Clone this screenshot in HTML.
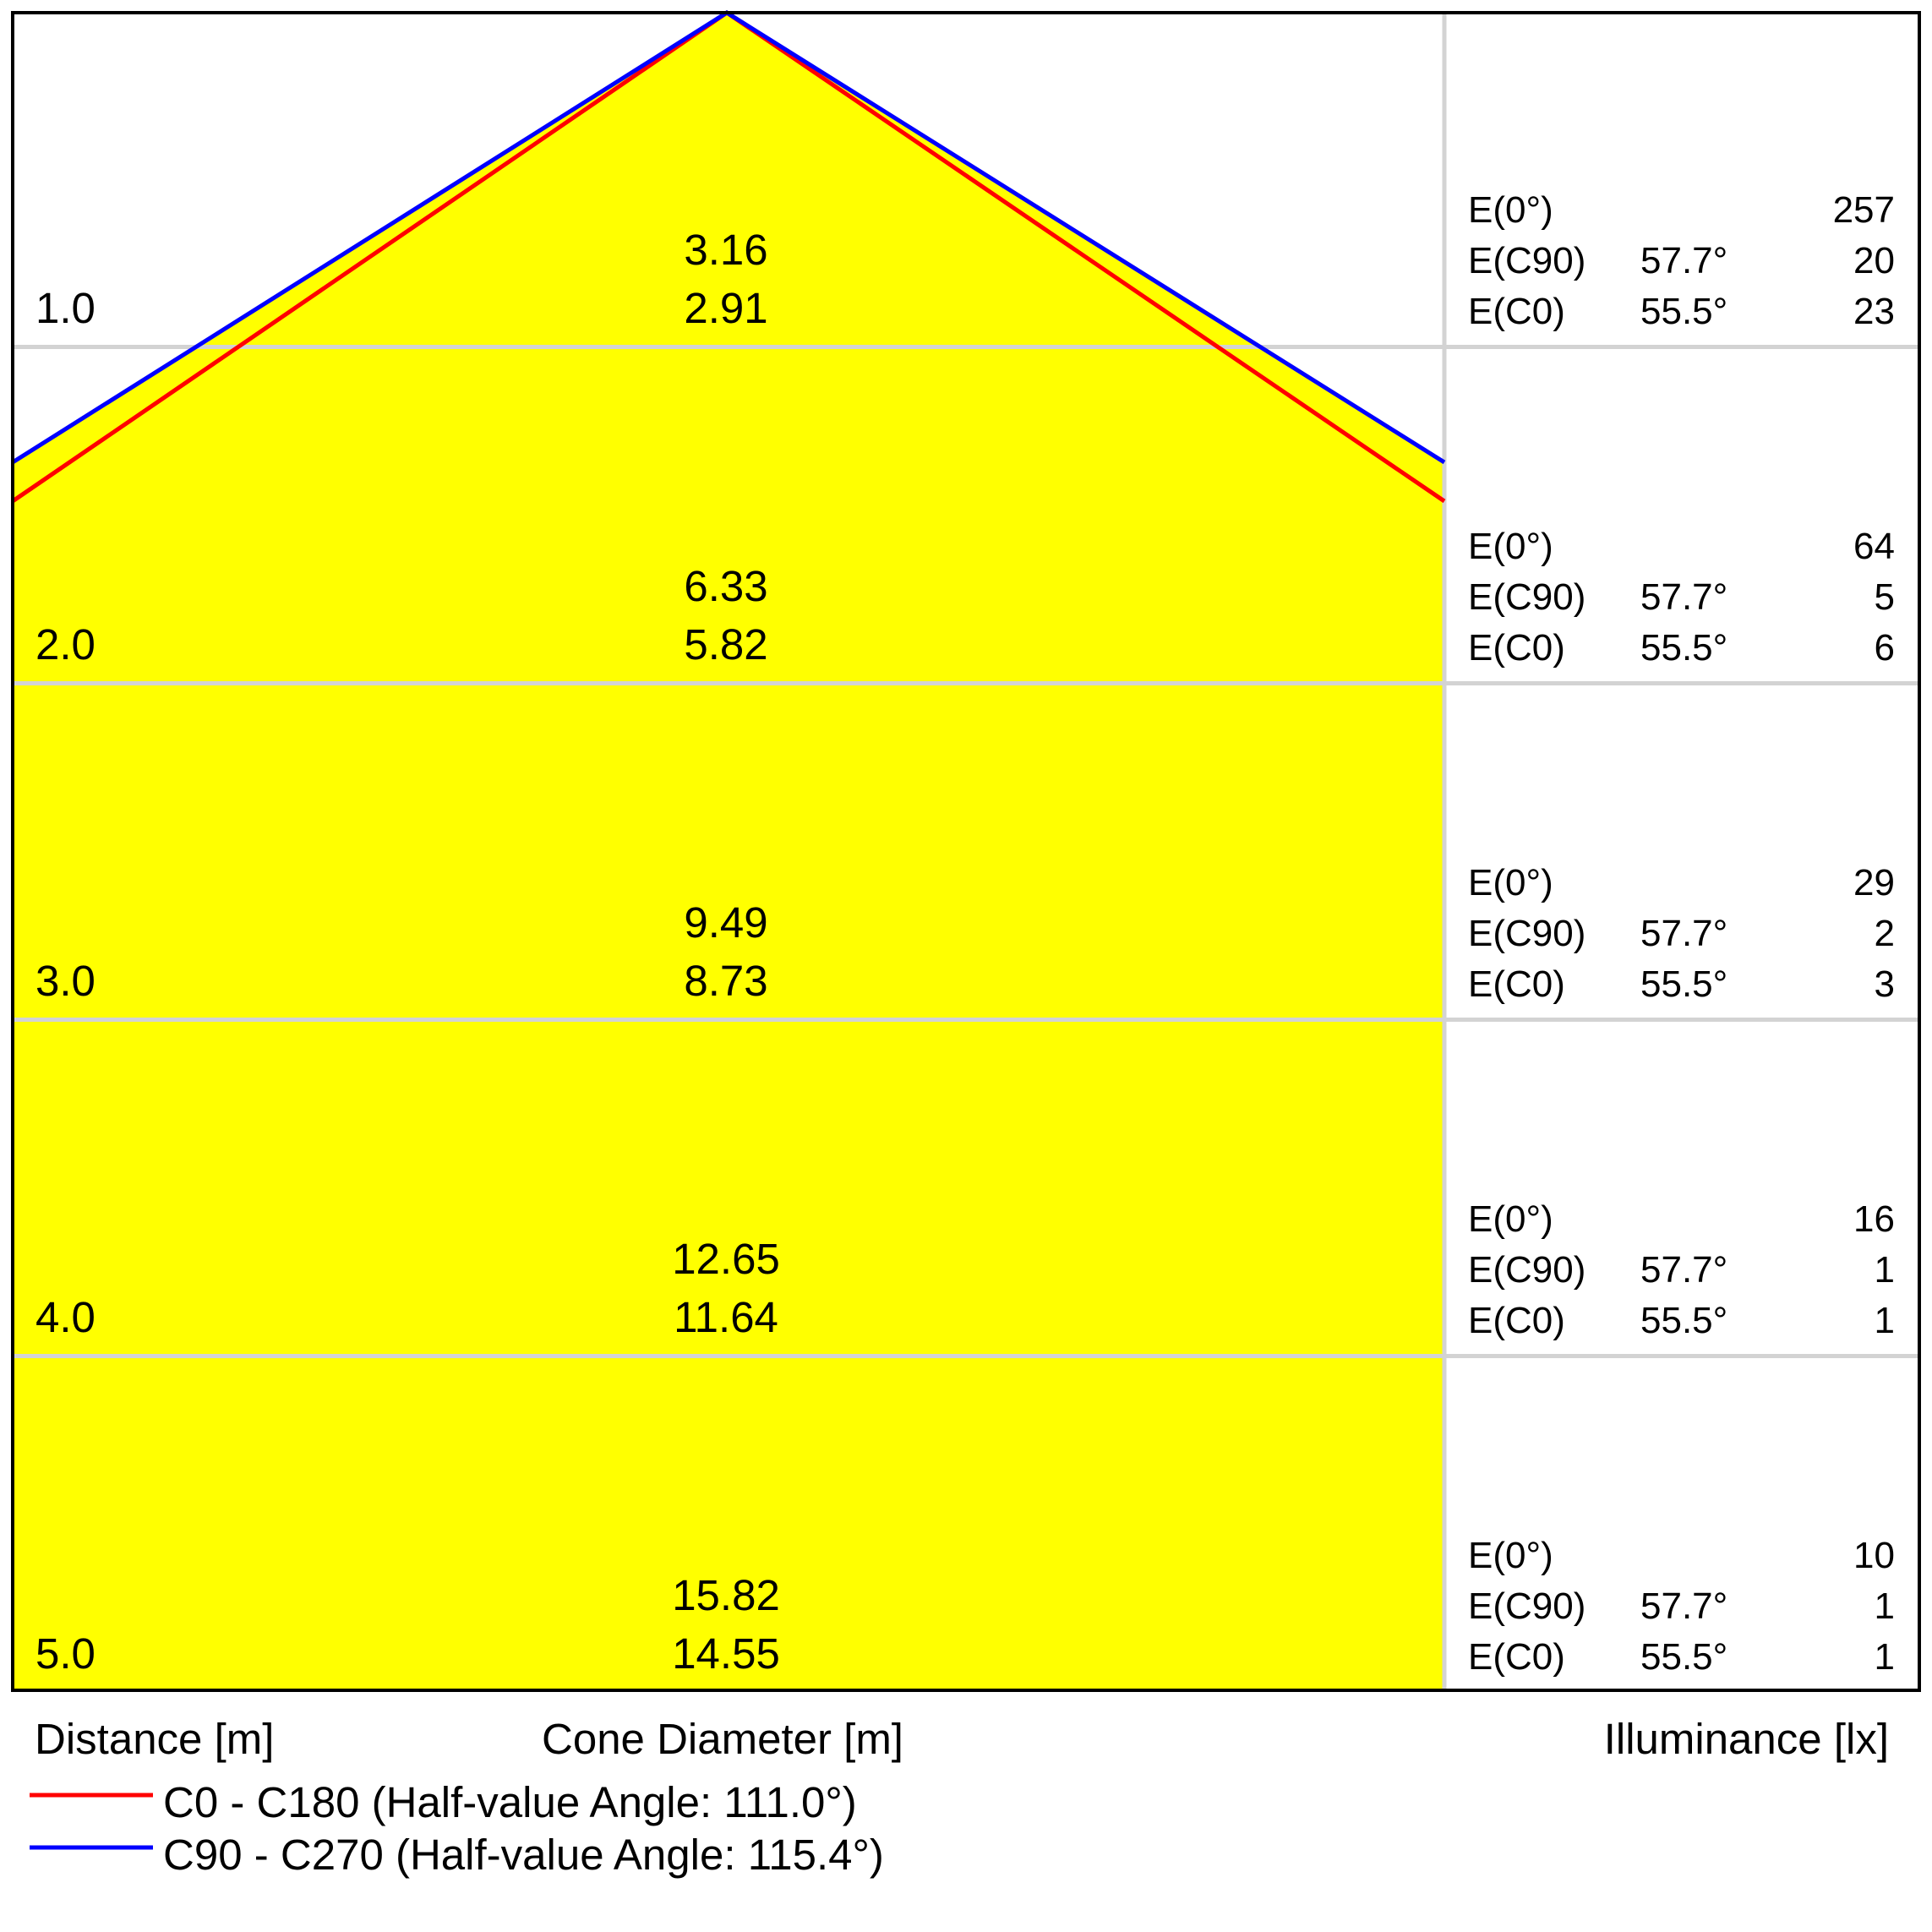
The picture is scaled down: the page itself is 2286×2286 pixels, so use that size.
<!DOCTYPE html>
<html>
<head>
<meta charset="utf-8">
<style>
  html, body { margin: 0; padding: 0; background: #ffffff; }
  svg { display: block; }
  text { font-family: "Liberation Sans", "DejaVu Sans", sans-serif; fill: #000; }
  .big { font-size: 51px; }
  .sm { font-size: 44px; }
</style>
</head>
<body>
<svg width="2286" height="2286" viewBox="0 0 2286 2286" xmlns="http://www.w3.org/2000/svg">
  <rect x="0" y="0" width="2286" height="2286" fill="#ffffff"/>
  <!-- yellow cone fill -->
  <polygon points="860,15 1709,547 1709,2000 15,2000 15,547" fill="#ffff00"/>
  <!-- grid -->
  <g stroke="#d3d3d3" stroke-width="5">
    <line x1="15" y1="410.5" x2="2271" y2="410.5"/>
    <line x1="15" y1="808.5" x2="2271" y2="808.5"/>
    <line x1="15" y1="1206.5" x2="2271" y2="1206.5"/>
    <line x1="15" y1="1604.5" x2="2271" y2="1604.5"/>
    <line x1="1709" y1="15" x2="1709" y2="2000"/>
  </g>
  <!-- cone lines -->
  <polyline points="15,593 860,15 1709,593" fill="none" stroke="#ff0000" stroke-width="5"/>
  <polyline points="15,547 860,15 1709,547" fill="none" stroke="#0000ff" stroke-width="5"/>
  <!-- border -->
  <rect x="15" y="15" width="2256" height="1985" fill="none" stroke="#000" stroke-width="4"/>

  <!-- distance labels -->
  <g class="big">
    <text x="42" y="382">1.0</text>
    <text x="42" y="780">2.0</text>
    <text x="42" y="1178">3.0</text>
    <text x="42" y="1576">4.0</text>
    <text x="42" y="1974">5.0</text>
  </g>
  <!-- cone diameters -->
  <g class="big" text-anchor="middle">
    <text x="859" y="313">3.16</text>
    <text x="859" y="382">2.91</text>
    <text x="859" y="711">6.33</text>
    <text x="859" y="780">5.82</text>
    <text x="859" y="1109">9.49</text>
    <text x="859" y="1178">8.73</text>
    <text x="859" y="1507">12.65</text>
    <text x="859" y="1576">11.64</text>
    <text x="859" y="1905">15.82</text>
    <text x="859" y="1974">14.55</text>
  </g>

  <!-- illuminance column -->
  <g class="sm">
    <g>
      <text x="1737" y="263">E(0°)</text>
      <text x="1737" y="323">E(C90)</text>
      <text x="1737" y="383">E(C0)</text>
      <text x="1941" y="323">57.7°</text>
      <text x="1941" y="383">55.5°</text>
      <text x="2242" y="263" text-anchor="end">257</text>
      <text x="2242" y="323" text-anchor="end">20</text>
      <text x="2242" y="383" text-anchor="end">23</text>
    </g>
    <g transform="translate(0,398)">
      <text x="1737" y="263">E(0°)</text>
      <text x="1737" y="323">E(C90)</text>
      <text x="1737" y="383">E(C0)</text>
      <text x="1941" y="323">57.7°</text>
      <text x="1941" y="383">55.5°</text>
      <text x="2242" y="263" text-anchor="end">64</text>
      <text x="2242" y="323" text-anchor="end">5</text>
      <text x="2242" y="383" text-anchor="end">6</text>
    </g>
    <g transform="translate(0,796)">
      <text x="1737" y="263">E(0°)</text>
      <text x="1737" y="323">E(C90)</text>
      <text x="1737" y="383">E(C0)</text>
      <text x="1941" y="323">57.7°</text>
      <text x="1941" y="383">55.5°</text>
      <text x="2242" y="263" text-anchor="end">29</text>
      <text x="2242" y="323" text-anchor="end">2</text>
      <text x="2242" y="383" text-anchor="end">3</text>
    </g>
    <g transform="translate(0,1194)">
      <text x="1737" y="263">E(0°)</text>
      <text x="1737" y="323">E(C90)</text>
      <text x="1737" y="383">E(C0)</text>
      <text x="1941" y="323">57.7°</text>
      <text x="1941" y="383">55.5°</text>
      <text x="2242" y="263" text-anchor="end">16</text>
      <text x="2242" y="323" text-anchor="end">1</text>
      <text x="2242" y="383" text-anchor="end">1</text>
    </g>
    <g transform="translate(0,1592)">
      <text x="1737" y="263">E(0°)</text>
      <text x="1737" y="323">E(C90)</text>
      <text x="1737" y="383">E(C0)</text>
      <text x="1941" y="323">57.7°</text>
      <text x="1941" y="383">55.5°</text>
      <text x="2242" y="263" text-anchor="end">10</text>
      <text x="2242" y="323" text-anchor="end">1</text>
      <text x="2242" y="383" text-anchor="end">1</text>
    </g>
  </g>

  <!-- axis titles -->
  <g class="big">
    <text x="41" y="2075">Distance [m]</text>
    <text x="855" y="2075" text-anchor="middle">Cone Diameter [m]</text>
    <text x="2235" y="2075" text-anchor="end">Illuminance [lx]</text>
  </g>

  <!-- legend -->
  <line x1="35" y1="2124" x2="181" y2="2124" stroke="#ff0000" stroke-width="5"/>
  <line x1="35" y1="2186" x2="181" y2="2186" stroke="#0000ff" stroke-width="5"/>
  <g class="big">
    <text x="193" y="2150">C0 - C180 (Half-value Angle: 111.0°)</text>
    <text x="193" y="2212">C90 - C270 (Half-value Angle: 115.4°)</text>
  </g>
</svg>
</body>
</html>
